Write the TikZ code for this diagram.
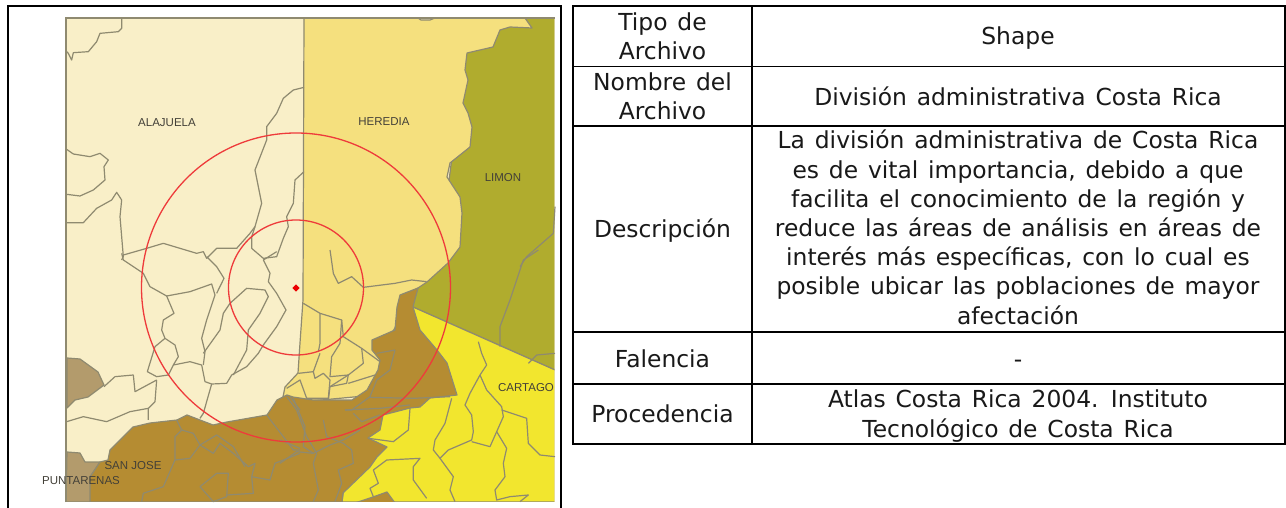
\documentclass[tikz,border=0pt]{standalone}
\usepackage{fontspec}
\setmainfont[WordSpace=1.32]{DejaVu Sans}
\newfontfamily\mapfont{Liberation Sans}
\definecolor{cream}{HTML}{F9EFC8}
\definecolor{heredia}{HTML}{F5E07E}
\definecolor{limon}{HTML}{B0AC2E}
\definecolor{cartago}{HTML}{F2E62E}
\definecolor{sanjose}{HTML}{B58C32}
\definecolor{punta}{HTML}{B39B6C}
\definecolor{grayline}{HTML}{8F8A70}
\definecolor{ringred}{HTML}{EE3B3B}
\tikzset{
  region/.style={draw=grayline,line width=1.2pt,line join=round},
  dist/.style={draw=grayline,line width=1.2pt,line join=round},
  ring/.style={draw=ringred,line width=1.3pt},
  grid/.style={draw=black,line width=1.8pt},
  frameline/.style={draw=black,line width=2pt},
  maplabel/.style={font=\mapfont\fontsize{11.5}{13}\selectfont,text=black!85!yellow,inner sep=0pt},
  celltext/.style={font=\fontsize{23.4}{29.2}\selectfont,align=center,inner sep=0pt,text=black!90,anchor=base},
  zoomA/.style={x=0.33333pt,y=-0.33333pt},
  zoomB/.style={shift={(280,0)},x=0.33333pt,y=-0.33333pt},
  zoomC/.style={shift={(0,250)},x=0.33333pt,y=-0.33333pt},
  zoomD/.style={shift={(280,250)},x=0.33333pt,y=-0.33333pt},
}
\newcommand{\pl}[1]{\draw[dist] plot coordinates {#1};}
\begin{document}
\begin{tikzpicture}[x=1pt,y=-1pt]
\useasboundingbox (0,0) rectangle (1286,508);
\fill[white] (0,0) rectangle (1286,508);
% map frame
\draw[frameline] (8,508) -- (8,6) -- (561,6) -- (561,508);
% base
\fill[cream] (66,18) rectangle (555,502);
\begin{scope}
\clip (60,10) rectangle (554.4,501.4);
% limon
\fill[limon,region] (470,18) -- (555,18) -- (555,370) -- (413,307) -- (405,290) -- (440,250) -- cycle;
% cartago
\fill[cartago,region] (413,307) -- (555,370) -- (555,502) -- (342,502) -- (350,440) -- (400,385) -- cycle;
% heredia
\fill[heredia,region] (304,18) -- (418,18) -- (421,20) -- (430,20) -- (435,18) -- (525,18) -- (532,28) -- (510,27) -- (500,30) -- (493,47) -- (467,53) -- (465,70) -- (468,80) -- (463,103) -- (468,113) -- (472,127) -- (470,147) -- (450,163) -- (447,177) -- (460,197) -- (462,213) -- (460,247) -- (448,263) -- (427,282) -- (418,288) -- (385,345) -- (375,395) -- (300,402) -- (283,397) -- (285,387) -- (298,373) -- (300,343) -- (303,300) -- cycle;
% punta
\fill[punta,region] (67,358) -- (80,359) -- (98,372) -- (104,385) -- (88,397) -- (75,400) -- (67,408) -- cycle;
\fill[punta,region] (67,452) -- (80,453) -- (85,462) -- (100,462) -- (90,477) -- (97,483) -- (110,497) -- (108,502) -- (66,502) -- cycle;
% san jose
\fill[sanjose,region] (90,502) -- (90,477) -- (100,462) -- (108,460) -- (110,450) -- (130,430) -- (133,427) -- (150,423) -- (177,420) -- (187,415) -- (200,420) -- (213,425) -- (227,422) -- (267,415) -- (277,400) -- (287,395) -- (293,397) -- (313,400) -- (330,400) -- (352,400) -- (367,390) -- (378,370) -- (380,360) -- (372,350) -- (372,340) -- (395,330) -- (397,307) -- (400,295) -- (418,288) -- (413,307) -- (420,330) -- (437,350) -- (447,363) -- (457,395) -- (430,398) -- (420,407) -- (410,408) -- (383,415) -- (380,430) -- (368,438) -- (387,447) -- (377,457) -- (370,467) -- (343,493) -- (342,502) -- cycle;
\fill[sanjose,region] (355,503) -- (373,497) -- (387,492) -- (395,503) -- cycle;
\end{scope}
% left and top edge of the map
\draw[grayline,line width=1.3pt] (66,502) -- (66,18) -- (555,18);
% district lines, in the coordinates of the crops
\begin{scope}[zoomA]
\pl{(365,55) (365,85) (355,95) (300,100) (290,125) (265,155) (220,158) (215,180) (205,160) (200,155)}
\pl{(200,448) (220,462) (270,470) (300,460) (325,480) (312,500) (315,540) (280,570) (240,588) (200,583)}
\pl{(200,668) (250,668) (290,625) (335,600) (350,577) (365,600) (360,650) (370,770) (365,780)}
\pl{(370,765) (440,745) (490,730) (540,745) (590,760) (610,755) (620,775) (650,745) (710,745) (750,700) (765,680) (785,610) (765,510) (800,420) (800,380) (830,340) (850,295) (880,270) (912,262)}
\pl{(912,515) (885,540) (880,610) (860,650) (865,680) (850,715) (830,770) (790,775) (755,745) (755,710) (765,680)}
\end{scope}
\begin{scope}[zoomC]
\pl{(365,10) (370,30) (430,70) (450,110) (500,138) (570,125) (635,102) (645,135) (620,210) (605,265) (615,305) (610,345)}
\pl{(500,138) (522,190) (490,210) (485,240) (495,265) (525,285) (535,320) (520,345) (505,375) (470,380) (442,365) (465,290) (495,265)}
\pl{(520,345) (570,335) (605,345) (615,395) (635,402) (680,400) (695,375) (740,350) (775,310) (790,285) (830,230) (858,180) (830,130) (805,95) (810,70) (790,30) (830,5)}
\pl{(610,310) (660,240) (670,190) (690,160) (740,115) (795,120) (805,140) (780,190) (745,240) (740,300) (700,375)}
\pl{(620,20) (650,50) (672,85) (650,130)}
\pl{(470,390) (465,455) (445,475) (445,510)}
\pl{(470,390) (405,425) (400,375) (345,380) (312,410)}
\pl{(200,515) (250,500) (320,515) (390,485) (445,475)}
\pl{(635,402) (610,490) (600,505)}
\pl{(530,510) (545,540) (525,560) (525,630) (490,710) (430,730) (425,755)}
\pl{(545,540) (580,550) (600,585) (650,555) (700,590) (735,650)}
\pl{(600,585) (640,610) (660,580) (700,610) (745,650) (765,640) (755,680) (810,690) (825,640) (900,610)}
\pl{(525,630) (570,625) (600,585)}
\pl{(800,495) (850,560) (880,600) (900,600)}
\pl{(870,440) (900,480)}
\pl{(600,710) (650,670) (685,670) (680,740) (640,755) (600,710)}
\pl{(680,735) (760,730) (755,680)}
\end{scope}
\begin{scope}[zoomB]
\pl{(825,620) (820,700) (740,770) (720,800)}
\end{scope}
\begin{scope}[zoomD]
\pl{(150,0) (160,70) (175,100) (215,80) (250,112) (345,100) (395,90) (440,95)}
\pl{(70,160) (120,190) (185,210) (190,260) (245,295) (250,340) (205,375) (150,410) (145,450)}
\pl{(120,190) (120,280) (115,305)}
\pl{(185,210) (180,280) (155,320) (150,380) (205,375) (200,400) (150,410)}
\pl{(245,295) (300,335)}
\pl{(205,400) (285,375)}
\pl{(55,370) (100,365) (105,385) (130,370) (150,390) (145,445) (80,445) (60,390) (20,415)}
\pl{(100,365) (120,310)}
\pl{(345,300) (330,360) (290,390) (270,440) (215,480) (195,480)}
\pl{(290,310) (345,300)}
\pl{(270,442) (400,445) (510,440)}
\pl{(195,480) (300,475) (390,465)}
\pl{(220,490) (245,515) (300,495)}
\pl{(20,440) (50,480) (80,560) (110,610) (100,640) (115,720) (100,755)}
\pl{(40,445) (75,530) (70,590) (100,610)}
\pl{(130,510) (140,560) (190,580) (215,600) (220,640) (175,660) (185,700) (165,755)}
\pl{(100,610) (150,585) (190,570) (240,540)}
\pl{(0,640) (50,605) (100,610)}
\pl{(0,570) (60,595)}
\pl{(595,275) (605,310) (620,345) (600,375) (570,430) (555,465) (575,495) (580,545) (575,570) (505,600) (480,625) (460,600) (465,570) (495,520) (515,445)}
\pl{(600,375) (620,420) (665,470) (670,500) (650,545) (630,590) (575,575)}
\pl{(665,480) (740,505) (745,580) (780,615) (825,620)}
\pl{(650,545) (680,595) (670,640) (675,680) (645,720) (650,750) (690,740) (745,735) (720,755)}
\pl{(480,625) (520,680) (510,720) (525,755)}
\pl{(390,475) (385,540) (340,575) (265,565)}
\pl{(280,660) (320,630) (420,625) (400,650) (400,690) (440,745)}
\pl{(280,660) (295,700) (270,715) (280,740)}
\pl{(775,0) (730,30) (690,150) (660,230) (660,290)}
\pl{(745,340) (770,315) (825,310)}
\end{scope}
% rings and point
\draw[ring] (296,287.5) circle[radius=154.5];
\draw[ring] (296,287.5) circle[radius=67.5];
\fill[red!92!black,rotate around={45:(296,288)}] (293.4,285.4) rectangle (298.6,290.6);
% map labels
\node[maplabel] (lalajuela) at (167,123) {ALAJUELA};
\node[maplabel] (lheredia) at (384,122) {HEREDIA};
\node[maplabel] (llimon) at (503,178) {LIMON};
\node[maplabel] (lcartago) at (526,388) {CARTAGO};
\node[maplabel] (lsanjose) at (133,466) {SAN JOSE};
\node[maplabel] (lpuntarenas) at (81,481) {PUNTARENAS};
% table
\draw[grid] (573,6) rectangle (1285,444);
\draw[grid] (752,6) -- (752,444);
\draw[grid] (573,66.5) -- (1285,66.5);
\draw[grid] (573,126) -- (1285,126);
\draw[grid] (573,332) -- (1285,332);
\draw[grid] (573,384) -- (1285,384);
\node[celltext] (a1) at (662.5,60) {Tipo de\\Archivo};
\node[celltext] (b1) at (1018,45) {Shape};
\node[celltext] (a2) at (662.5,120) {Nombre del\\Archivo};
\node[celltext] (b2) at (1018,106) {División administrativa Costa Rica};
\node[celltext] (a3) at (662.5,237) {Descripción};
\node[celltext] (b3) at (1018,324) {La división administrativa de Costa Rica\\es de vital importancia, debido a que\\facilita el conocimiento de la región y\\reduce las áreas de análisis en áreas de\\interés más específicas, con lo cual es\\posible ubicar las poblaciones de mayor\\afectación};
\node[celltext] (a4) at (662.5,367) {Falencia};
\node[celltext] (b4) at (1018,367) {-};
\node[celltext] (a5) at (662.5,422) {Procedencia};
\node[celltext] (b5) at (1018,437) {Atlas Costa Rica 2004. Instituto\\Tecnológico de Costa Rica};
\end{tikzpicture}
\end{document}
